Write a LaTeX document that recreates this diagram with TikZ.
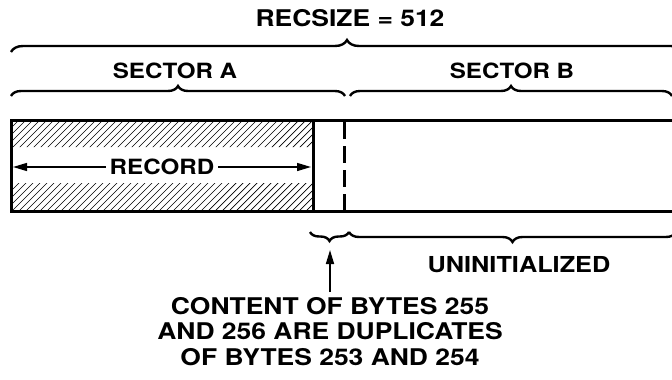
\documentclass[tikz,border=0pt]{standalone}
\usepackage{fontspec}
\setmainfont{TeX Gyre Heros}[FakeStretch=1.15]
\usetikzlibrary{arrows.meta,decorations.pathreplacing,positioning,calc}

\begin{document}
\begin{tikzpicture}[x=1pt,y=-1pt, >={Triangle[length=14pt,width=8pt]},
  font=\fontsize{21}{25.5}\selectfont\bfseries,
  big/.style={font=\fontsize{23}{25.5}\selectfont\bfseries},
  lbl/.style={inner sep=0pt,anchor=base},
  brc/.style={decorate,decoration={brace,amplitude=#1},line width=2.4pt},
  brc/.default=10,
  wall/.style={line width=3pt},
  hatch/.style={line width=0.7pt}]
  \useasboundingbox (0,0) rectangle (672,380);
  \clip (0,0) rectangle (672,380);
  % hatched record area, blank band round the label
  \begin{scope}
    \clip (11,120) rectangle (313,147) (11,183) rectangle (313,211);
    \foreach \i in {0,7,...,420} \draw[hatch] (\i-100,211) -- (\i-9,120);
  \end{scope}
  % buffer outline, open to the right
  \draw[wall] (683,120) -- (11,120) -- (11,211) -- (683,211);
  \draw[wall] (313,120) -- (313,211);
  \draw[wall,dash pattern=on 17pt off 7pt] (344,122) -- (344,211);
  % labels
  \node[lbl,big] (recsize) at (350,27) {RECSIZE = 512};
  \node[lbl] (secA) at (175,78) {SECTOR A};
  \node[lbl] (secB) at (512,78) {SECTOR B};
  \node[inner sep=4pt] (rec) at (162,167) {RECORD};
  \node[lbl,font=\fontsize{22}{25.5}\selectfont\bfseries] (uninit) at (519,272) {UNINITIALIZED};
  \node[big,align=center,inner sep=0pt,anchor=north] (note) at (330,297)
    {CONTENT OF BYTES 255\\AND 256 ARE DUPLICATES\\OF BYTES 253 AND 254};
  % braces
  \draw[brc=12] (11,52) -- (683,52);
  \draw[brc] (11,96) -- (345,96);
  \draw[brc] (350,96) -- (672,96);
  \draw[brc=9,decoration={mirror}] (310,232) -- (349,232);
  \draw[brc,decoration={mirror}] (349,232) -- (676,232);
  % arrows
  \coordinate (recL) at (13,167);
  \coordinate (recR) at (311,167);
  \coordinate (dup) at (330,250);
  \draw[->,line width=1.4pt] (rec.west) -- (recL);
  \draw[->,line width=1.4pt] (rec.east) -- (recR);
  \draw[->,line width=1.6pt] ([yshift=5pt]note.north) -- (dup);
\end{tikzpicture}
\end{document}
